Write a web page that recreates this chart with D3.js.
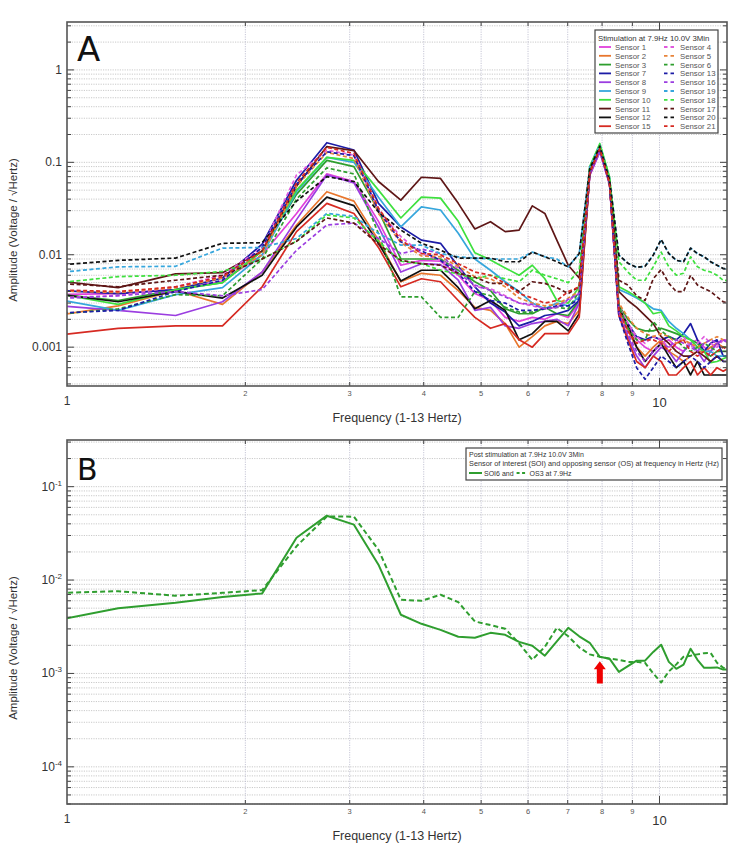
<!DOCTYPE html>
<html>
<head>
<meta charset="utf-8">
<script src="https://cdn.jsdelivr.net/npm/d3@7"></script>
<style>
    body { margin: 0; background: #fff; }
    svg { display: block; font-family: "Liberation Sans", Arial, sans-serif; }
</style>
</head>
<body>
<div id="chart"></div>
<script>
// frequency bins (Hz), ~0.305 Hz resolution
const freqs = [0.915, 1.22, 1.525, 1.83, 2.135, 2.44, 2.745, 3.05, 3.355, 3.66, 3.965, 4.27, 4.575, 4.88,
    5.185, 5.49, 5.795, 6.1, 6.405, 6.71, 7.015, 7.32, 7.625, 7.93, 8.235, 8.54, 8.845, 9.15, 9.455, 9.76,
    10.065, 10.37, 10.675, 10.98, 11.285, 11.59, 11.895, 12.2, 12.505, 12.81, 13.115];

// Panel A - amplitude per sensor during stimulation
const sensor1 = [0.0037, 0.0038, 0.0042, 0.0052, 0.01, 0.028, 0.075, 0.062, 0.023,
    0.0077, 0.0087, 0.0085, 0.006, 0.0038, 0.0032, 0.0021, 0.0019, 0.0021, 0.002, 0.0023, 0.0021, 0.003,
    0.072, 0.13, 0.058,
    0.0026, 0.0017, 0.0012, 0.001, 0.0009, 0.0011, 0.0012, 0.001, 0.0009, 0.0011, 0.0012, 0.001, 0.0009, 0.0011, 0.0012, 0.0012];
const sensor2 = [0.0021, 0.0028, 0.0041, 0.0029, 0.0065, 0.021, 0.048, 0.038, 0.0144,
    0.0051, 0.0063, 0.006, 0.0041, 0.0027, 0.0025, 0.0018, 0.001, 0.0013, 0.0017, 0.0019, 0.0018, 0.0025,
    0.075, 0.14, 0.06,
    0.0024, 0.0015, 0.001, 0.0008, 0.001, 0.0012, 0.0009, 0.0008, 0.0007, 0.0008, 0.0009, 0.0009, 0.001, 0.0011, 0.001, 0.001];
const sensor3 = [0.0039, 0.0032, 0.0042, 0.005, 0.011, 0.045, 0.105, 0.09, 0.03,
    0.009, 0.009, 0.009, 0.0068, 0.0051, 0.0041, 0.0026, 0.0023, 0.0023, 0.0027, 0.0023, 0.0022, 0.0032,
    0.08, 0.145, 0.062,
    0.0028, 0.002, 0.0016, 0.0015, 0.0015, 0.0016, 0.0015, 0.0014, 0.0013, 0.0012, 0.0011, 0.0009, 0.0008, 0.0009, 0.0009, 0.0009];
const sensor7 = [0.0042, 0.0038, 0.0042, 0.0056, 0.013, 0.064, 0.163, 0.136, 0.036,
    0.02, 0.0144, 0.0133, 0.0075, 0.0045, 0.003, 0.0024, 0.0017, 0.0019, 0.0022, 0.0023, 0.0025, 0.0032,
    0.078, 0.14, 0.06,
    0.0025, 0.0018, 0.0013, 0.0012, 0.0013, 0.0012, 0.0013, 0.0012, 0.0014, 0.0018, 0.0012, 0.0009, 0.0011, 0.0012, 0.0008, 0.0008];
const sensor8 = [0.0029, 0.0025, 0.0022, 0.0031, 0.0065, 0.024, 0.073, 0.06, 0.02,
    0.0065, 0.008, 0.0078, 0.0053, 0.0025, 0.0027, 0.0017, 0.0016, 0.0018, 0.0019, 0.002, 0.0017, 0.003,
    0.072, 0.13, 0.058,
    0.0022, 0.0013, 0.0008, 0.0006, 0.0008, 0.001, 0.0009, 0.0007, 0.0009, 0.0011, 0.0009, 0.0007, 0.0009, 0.0011, 0.0012, 0.0011];
const sensor9 = [0.0035, 0.0025, 0.0037, 0.0044, 0.01, 0.048, 0.113, 0.1, 0.042,
    0.02, 0.033, 0.0305, 0.0171, 0.009, 0.0068, 0.0051, 0.004, 0.003, 0.0026, 0.003, 0.0028, 0.0035,
    0.085, 0.15, 0.065,
    0.0042, 0.0038, 0.0034, 0.003, 0.0026, 0.0025, 0.0019, 0.0016, 0.0014, 0.0012, 0.001, 0.0009, 0.0009, 0.0008, 0.0008, 0.0008];
const sensor10 = [0.004, 0.0029, 0.0042, 0.005, 0.011, 0.05, 0.113, 0.105, 0.05,
    0.025, 0.042, 0.041, 0.023, 0.0105, 0.0088, 0.0072, 0.006, 0.0077, 0.0055, 0.0032, 0.003, 0.0045,
    0.09, 0.16, 0.07,
    0.0045, 0.004, 0.0035, 0.003, 0.0023, 0.0024, 0.0017, 0.0015, 0.0013, 0.0012, 0.001, 0.0009, 0.00068, 0.0007, 0.00075, 0.0008];
const sensor11 = [0.0054, 0.0044, 0.0062, 0.0064, 0.011, 0.055, 0.148, 0.134, 0.062,
    0.039, 0.069, 0.067, 0.036, 0.019, 0.0228, 0.0178, 0.0185, 0.0338, 0.028, 0.0144, 0.0077, 0.0056,
    0.08, 0.145, 0.062,
    0.004, 0.0032, 0.0027, 0.0022, 0.0018, 0.0013, 0.0011, 0.0009, 0.0008, 0.0008, 0.0009, 0.0008, 0.0007, 0.0008, 0.0007, 0.0007];
const sensor12 = [0.0039, 0.0031, 0.004, 0.0034, 0.006, 0.02, 0.042, 0.034, 0.0133,
    0.0052, 0.0068, 0.0068, 0.0044, 0.0026, 0.0032, 0.0025, 0.0012, 0.0014, 0.0019, 0.0019, 0.0015, 0.0023,
    0.075, 0.14, 0.06,
    0.0027, 0.0017, 0.001, 0.0007, 0.0009, 0.0011, 0.0008, 0.0006, 0.0007, 0.0005, 0.0007, 0.0005, 0.0005, 0.0005, 0.0005, 0.0005];
const sensor15 = [0.0013, 0.0016, 0.0017, 0.0017, 0.0045, 0.0178, 0.036, 0.028, 0.012,
    0.0045, 0.0055, 0.0051, 0.0032, 0.0021, 0.0016, 0.0018, 0.0012, 0.001, 0.0014, 0.0014, 0.0014, 0.0021,
    0.075, 0.14, 0.06,
    0.0022, 0.0012, 0.0007, 0.0006, 0.0008, 0.0007, 0.0005, 0.0005, 0.0006, 0.0007, 0.0005, 0.0006, 0.0005, 0.0006, 0.00055, 0.0006];
const sensor4 = [0.0034, 0.0036, 0.0045, 0.006, 0.012, 0.073, 0.135, 0.12, 0.03,
    0.0157, 0.0103, 0.0087, 0.0072, 0.0045, 0.0043, 0.0036, 0.003, 0.0028, 0.0026, 0.0027, 0.0032, 0.0038,
    0.075, 0.135, 0.06,
    0.0028, 0.0018, 0.0013, 0.0011, 0.0013, 0.0012, 0.001, 0.0011, 0.0013, 0.001, 0.0011, 0.0013, 0.0011, 0.001, 0.0012, 0.0012];
const sensor5 = [0.0041, 0.0039, 0.0044, 0.0056, 0.01, 0.055, 0.128, 0.11, 0.028,
    0.0135, 0.0097, 0.0095, 0.0075, 0.0058, 0.0055, 0.0045, 0.0034, 0.003, 0.0028, 0.0029, 0.0034, 0.004,
    0.078, 0.14, 0.06,
    0.003, 0.0021, 0.0016, 0.0014, 0.0013, 0.0014, 0.0013, 0.0011, 0.0012, 0.0011, 0.001, 0.0011, 0.0012, 0.0013, 0.0012, 0.0011];
const sensor6 = [0.0022, 0.0026, 0.0037, 0.0036, 0.009, 0.04, 0.087, 0.075, 0.017,
    0.0035, 0.0035, 0.0021, 0.0021, 0.004, 0.0036, 0.0027, 0.0024, 0.0024, 0.0026, 0.0027, 0.0026, 0.004,
    0.08, 0.145, 0.062,
    0.0028, 0.0016, 0.0012, 0.0012, 0.0019, 0.0015, 0.0013, 0.0012, 0.001, 0.0009, 0.001, 0.0011, 0.001, 0.0009, 0.001, 0.001];
const sensor13 = [0.0023, 0.0025, 0.004, 0.0053, 0.012, 0.058, 0.13, 0.118, 0.03,
    0.0138, 0.011, 0.0087, 0.0063, 0.004, 0.0032, 0.003, 0.0025, 0.0025, 0.0026, 0.0028, 0.0028, 0.0033,
    0.078, 0.14, 0.06,
    0.0022, 0.0011, 0.0006, 0.00045, 0.0006, 0.0008, 0.0007, 0.0006, 0.0007, 0.0008, 0.0007, 0.0006, 0.0007, 0.0008, 0.0007, 0.0007];
const sensor16 = [0.0033, 0.0036, 0.004, 0.0036, 0.0042, 0.0112, 0.021, 0.022, 0.015,
    0.0103, 0.0115, 0.0103, 0.0063, 0.0047, 0.0041, 0.0035, 0.003, 0.0029, 0.0026, 0.0027, 0.0033, 0.0038,
    0.075, 0.135, 0.06,
    0.0024, 0.0014, 0.0009, 0.0007, 0.0009, 0.0011, 0.001, 0.0012, 0.0011, 0.001, 0.0009, 0.0011, 0.0012, 0.0011, 0.0012, 0.0011];
const sensor19 = [0.0062, 0.0074, 0.0075, 0.0118, 0.012, 0.015, 0.028, 0.026, 0.017,
    0.0127, 0.0127, 0.0103, 0.0095, 0.0092, 0.009, 0.009, 0.009, 0.0107, 0.0095, 0.009, 0.0074, 0.0103,
    0.088, 0.155, 0.068,
    0.0099, 0.0081, 0.0073, 0.0075, 0.0099, 0.0146, 0.0103, 0.0087, 0.0084, 0.0118, 0.0103, 0.0095, 0.0084, 0.0077, 0.0071, 0.007];
const sensor18 = [0.0048, 0.0058, 0.006, 0.0066, 0.009, 0.014, 0.027, 0.025, 0.014,
    0.0085, 0.008, 0.0068, 0.0062, 0.0055, 0.006, 0.0055, 0.0051, 0.0068, 0.006, 0.0055, 0.005, 0.0068,
    0.088, 0.155, 0.068,
    0.0084, 0.0065, 0.0053, 0.0053, 0.0074, 0.0107, 0.0074, 0.006, 0.0063, 0.0095, 0.0074, 0.0068, 0.0065, 0.006, 0.0053, 0.0052];
const sensor17 = [0.005, 0.0045, 0.0053, 0.006, 0.009, 0.014, 0.025, 0.022, 0.013,
    0.0087, 0.008, 0.0077, 0.0063, 0.0057, 0.0049, 0.0049, 0.004, 0.0051, 0.0049, 0.0044, 0.0038, 0.0045,
    0.078, 0.14, 0.06,
    0.0053, 0.0047, 0.0036, 0.0032, 0.0055, 0.0069, 0.0049, 0.004, 0.004, 0.006, 0.0047, 0.0043, 0.004, 0.0035, 0.0031, 0.003];
const sensor20 = [0.0075, 0.0087, 0.0092, 0.0133, 0.0135, 0.038, 0.07, 0.062, 0.029,
    0.0185, 0.0133, 0.0112, 0.0092, 0.0092, 0.0092, 0.0084, 0.0084, 0.0107, 0.0095, 0.0084, 0.0074, 0.0103,
    0.085, 0.15, 0.065,
    0.0099, 0.0081, 0.0073, 0.0075, 0.0099, 0.0146, 0.0103, 0.0087, 0.0084, 0.0118, 0.0103, 0.0095, 0.0084, 0.0077, 0.0071, 0.007];
const sensor21 = [0.0042, 0.004, 0.0045, 0.0058, 0.011, 0.06, 0.145, 0.125, 0.032,
    0.0144, 0.0103, 0.01, 0.008, 0.0065, 0.006, 0.0049, 0.0038, 0.0034, 0.003, 0.0032, 0.004, 0.0045,
    0.078, 0.14, 0.06,
    0.0025, 0.0015, 0.0011, 0.0012, 0.0012, 0.0011, 0.0009, 0.0011, 0.0012, 0.0009, 0.0008, 0.0009, 0.0008, 0.0009, 0.001, 0.0009];

// Panel B - post stimulation, SOI6 vs OS3
const soi6 = [0.0035, 0.005, 0.0057, 0.0066, 0.0072, 0.0284, 0.0489, 0.0392, 0.0146, 0.00425, 0.0034,
    0.00293, 0.00247, 0.00241, 0.00272, 0.00259, 0.00218, 0.00198, 0.00155, 0.0022, 0.00308, 0.0025,
    0.00213, 0.00151, 0.00144, 0.00104, 0.0012, 0.00137, 0.00137, 0.0017, 0.00203, 0.00133, 0.00112,
    0.00124, 0.00184, 0.0014, 0.00115, 0.00115, 0.00116, 0.0011, 0.0011];
const os3 = [0.0072, 0.0076, 0.0068, 0.0073, 0.0078, 0.023, 0.048, 0.0477, 0.0211, 0.00615, 0.006,
    0.00696, 0.0058, 0.0036, 0.0033, 0.00301, 0.0021, 0.0014, 0.00193, 0.00308, 0.0025, 0.0019,
    0.0016, 0.00151, 0.00144, 0.0014, 0.00133, 0.00133, 0.0013, 0.001, 0.0008, 0.00105, 0.00125,
    0.00151, 0.00155, 0.0016, 0.00165, 0.00166, 0.0013, 0.00115, 0.0011];

const minorXTicks = [2, 3, 4, 5, 6, 7, 8, 9];
const arrowFreq = 7.93;
const arrowRange = [0.00135, 0.00078];

const seriesA = [
    {name: "Sensor 1", values: sensor1, color: "#e040dc", dashed: false},
    {name: "Sensor 2", values: sensor2, color: "#e8762d", dashed: false},
    {name: "Sensor 3", values: sensor3, color: "#2e9e2e", dashed: false},
    {name: "Sensor 7", values: sensor7, color: "#1c1ca6", dashed: false},
    {name: "Sensor 8", values: sensor8, color: "#9b3de0", dashed: false},
    {name: "Sensor 9", values: sensor9, color: "#36a6dc", dashed: false},
    {name: "Sensor 10", values: sensor10, color: "#3ee03e", dashed: false},
    {name: "Sensor 11", values: sensor11, color: "#5e1616", dashed: false},
    {name: "Sensor 12", values: sensor12, color: "#111111", dashed: false},
    {name: "Sensor 15", values: sensor15, color: "#d62a22", dashed: false},
    {name: "Sensor 4", values: sensor4, color: "#e05ade", dashed: true},
    {name: "Sensor 5", values: sensor5, color: "#e8843a", dashed: true},
    {name: "Sensor 6", values: sensor6, color: "#2e9e2e", dashed: true},
    {name: "Sensor 13", values: sensor13, color: "#1c1ca6", dashed: true},
    {name: "Sensor 16", values: sensor16, color: "#9b3de0", dashed: true},
    {name: "Sensor 19", values: sensor19, color: "#36a6dc", dashed: true},
    {name: "Sensor 18", values: sensor18, color: "#3ee03e", dashed: true},
    {name: "Sensor 17", values: sensor17, color: "#5e1616", dashed: true},
    {name: "Sensor 20", values: sensor20, color: "#111111", dashed: true},
    {name: "Sensor 21", values: sensor21, color: "#d62a22", dashed: true}
];
const seriesB = [
    {name: "SOI6", values: soi6, color: "#2f9e2f", dashed: false},
    {name: "OS3", values: os3, color: "#2f9e2f", dashed: true}
];

const width = 750, height = 863;
const svg = d3.select("#chart").append("svg")
    .attr("width", width)
    .attr("height", height);

function drawPanel(cfg) {
    const x = d3.scaleLog().domain([1, 13]).range([cfg.left, cfg.right]);
    const y = d3.scaleLog().domain(cfg.yDomain).range([cfg.bottom, cfg.top]);
    const g = svg.append("g");

    // log minor values in range
    const minorY = [];
    for (let e = -5; e <= 1; e++) {
        for (let m = 1; m <= 9; m++) {
            const v = m * Math.pow(10, e);
            if (v >= cfg.yDomain[0] && v <= cfg.yDomain[1]) minorY.push({v, major: m === 1});
        }
    }

    // grid
    g.selectAll(".hgrid").data(minorY).enter().append("line")
        .attr("x1", cfg.left).attr("x2", cfg.right)
        .attr("y1", d => y(d.v)).attr("y2", d => y(d.v))
        .attr("stroke", "#bdbdbd").attr("stroke-width", 0.8)
        .attr("stroke-dasharray", "1.2,1.2");
    g.selectAll(".vgrid").data(minorXTicks.concat([10])).enter().append("line")
        .attr("x1", d => x(d)).attr("x2", d => x(d))
        .attr("y1", cfg.top).attr("y2", cfg.bottom)
        .attr("stroke", "#b8b8cc").attr("stroke-width", 0.8)
        .attr("stroke-dasharray", "1.2,1.2");

    // lines
    const clipId = "clip-" + cfg.id;
    svg.append("clipPath").attr("id", clipId).append("rect")
        .attr("x", cfg.left).attr("y", cfg.top)
        .attr("width", cfg.right - cfg.left).attr("height", cfg.bottom - cfg.top);

    const line = d3.line()
        .x((d, i) => x(freqs[i]))
        .y(d => y(d));

    g.append("g").attr("clip-path", `url(#${clipId})`)
        .selectAll("path").data(cfg.series).enter().append("path")
        .attr("d", d => line(d.values))
        .attr("fill", "none")
        .attr("stroke", d => d.color)
        .attr("stroke-width", cfg.lineWidth)
        .attr("stroke-linejoin", "round")
        .attr("stroke-dasharray", d => d.dashed ? cfg.dash : null);

    // ticks (inward, on all four sides)
    const tickColor = "#444";
    [cfg.left, cfg.right].forEach((xx, side) => {
        const dir = side === 0 ? 1 : -1;
        g.selectAll(null).data(minorY).enter().append("line")
            .attr("x1", xx).attr("x2", d => xx + dir * (d.major ? 7 : 4))
            .attr("y1", d => y(d.v)).attr("y2", d => y(d.v))
            .attr("stroke", tickColor).attr("stroke-width", 1);
    });
    [cfg.bottom, cfg.top].forEach((yy, side) => {
        const dir = side === 0 ? -1 : 1;
        g.selectAll(null).data(minorXTicks.concat([10])).enter().append("line")
            .attr("x1", d => x(d)).attr("x2", d => x(d))
            .attr("y1", yy).attr("y2", d => yy + dir * (d === 10 ? 8 : 4))
            .attr("stroke", tickColor).attr("stroke-width", 1);
    });

    // frame
    g.append("rect")
        .attr("x", cfg.left).attr("y", cfg.top)
        .attr("width", cfg.right - cfg.left).attr("height", cfg.bottom - cfg.top)
        .attr("fill", "none").attr("stroke", "#555").attr("stroke-width", 1.6);

    // y labels
    const majors = minorY.filter(d => d.major);
    const yl = g.selectAll(".ylab").data(majors).enter().append("text")
        .attr("x", cfg.left - 5)
        .attr("y", d => y(d.v) + 4)
        .attr("text-anchor", "end")
        .attr("font-size", 12)
        .attr("fill", "#333");
    if (cfg.powerLabels) {
        yl.each(function (d) {
            const t = d3.select(this);
            t.append("tspan").text("10");
            t.append("tspan").attr("dy", -5).attr("font-size", 8)
                .text(String(Math.round(Math.log10(d.v))));
        });
    } else {
        yl.text(d => d3.format("~g")(d.v));
    }

    // x labels
    g.append("text").attr("x", x(1)).attr("y", cfg.bottom + 19)
        .attr("text-anchor", "middle").attr("font-size", 12).attr("fill", "#333").text("1");
    g.selectAll(".xmin").data(minorXTicks).enter().append("text")
        .attr("x", d => x(d)).attr("y", cfg.bottom + 10)
        .attr("text-anchor", "middle").attr("font-size", 7.5).attr("fill", "#555")
        .text(d => d);
    g.append("text").attr("x", x(10)).attr("y", cfg.bottom + 21)
        .attr("text-anchor", "middle").attr("font-size", 13).attr("fill", "#333").text("10");

    // titles
    g.append("text").attr("x", 397).attr("y", cfg.bottom + 36)
        .attr("text-anchor", "middle").attr("font-size", 12.5).attr("fill", "#333")
        .text("Frequency (1-13 Hertz)");
    g.append("text")
        .attr("transform", `translate(17,${(cfg.top + cfg.bottom) / 2 + 26}) rotate(-90)`)
        .attr("text-anchor", "middle").attr("font-size", 11.5).attr("fill", "#333")
        .text("Amplitude (Voltage / \u221AHertz)");

    // panel letter
    g.append("text").attr("x", cfg.left + 10).attr("y", cfg.top + cfg.letterDy)
        .attr("font-family", "DejaVu Sans, sans-serif")
        .attr("font-size", cfg.letterSize).attr("fill", "#111")
        .text(cfg.letter);

    return {x, y, g};
}

// ---- Panel A ----
const pA = drawPanel({
    id: "a", left: 67, right: 727, top: 22, bottom: 386,
    yDomain: [0.00038, 3.3], series: seriesA, lineWidth: 1.7, dash: "4,2.5",
    powerLabels: false, letter: "A", letterSize: 34, letterDy: 39
});

// legend A
const legA = pA.g.append("g");
legA.append("rect").attr("x", 595).attr("y", 30).attr("width", 123).attr("height", 103)
    .attr("fill", "#fff").attr("stroke", "#444").attr("stroke-width", 1.2);
legA.append("text").attr("x", 598).attr("y", 41).attr("font-size", 7.8).attr("fill", "#333")
    .text("Stimulation at 7.9Hz 10.0V 3Min");
seriesA.forEach((s, i) => {
    const col = s.dashed ? 1 : 0;
    const row = i % 10;
    const yy = 47 + row * 8.8;
    const x0 = col ? 664 : 599;
    legA.append("line").attr("x1", x0).attr("x2", x0 + 12).attr("y1", yy).attr("y2", yy)
        .attr("stroke", s.color).attr("stroke-width", 1.8)
        .attr("stroke-dasharray", s.dashed ? "3.5,3" : null);
    legA.append("text").attr("x", x0 + 16).attr("y", yy + 3)
        .attr("font-size", 7.8).attr("fill", "#555").text(s.name);
});

// ---- Panel B ----
const pB = drawPanel({
    id: "b", left: 67, right: 727, top: 440, bottom: 804,
    yDomain: [4e-5, 0.316], series: seriesB, lineWidth: 2, dash: "5,3",
    powerLabels: true, letter: "B", letterSize: 30, letterDy: 40
});

// legend B
const legB = pB.g.append("g");
const legFont = 7;
legB.append("rect").attr("x", 466).attr("y", 448).attr("width", 256).attr("height", 32)
    .attr("fill", "#fff").attr("stroke", "#444").attr("stroke-width", 1.2);
legB.append("text").attr("x", 469).attr("y", 457).attr("font-size", legFont).attr("fill", "#333")
    .text("Post stimulation at 7.9Hz 10.0V 3Min");
legB.append("text").attr("x", 469).attr("y", 466).attr("font-size", legFont).attr("fill", "#333")
    .attr("textLength", 250).attr("lengthAdjust", "spacingAndGlyphs")
    .text("Sensor of interest (SOI) and opposing sensor (OS) at frequency in Hertz (Hz)");
legB.append("line").attr("x1", 469).attr("x2", 482).attr("y1", 473).attr("y2", 473)
    .attr("stroke", seriesB[0].color).attr("stroke-width", 2);
const soiText = legB.append("text").attr("x", 484).attr("y", 475.5)
    .attr("font-size", legFont).attr("fill", "#333")
    .text("SOI6 and");
const dashX = 484 + soiText.node().getComputedTextLength() + 3;
legB.append("line").attr("x1", dashX).attr("x2", dashX + 10).attr("y1", 473).attr("y2", 473)
    .attr("stroke", seriesB[1].color).attr("stroke-width", 2).attr("stroke-dasharray", "3,2.5");
legB.append("text").attr("x", dashX + 13).attr("y", 475.5).attr("font-size", legFont).attr("fill", "#333")
    .text("OS3 at 7.9Hz");

// red arrow at stimulation frequency
const ax = pB.x(arrowFreq);
const tipY = pB.y(arrowRange[0]);
const baseY = pB.y(arrowRange[1]);
pB.g.append("path")
    .attr("d", `M${ax},${tipY} L${ax + 6},${tipY + 8} L${ax + 3},${tipY + 8} L${ax + 3},${baseY}
        L${ax - 3},${baseY} L${ax - 3},${tipY + 8} L${ax - 6},${tipY + 8} Z`)
    .attr("fill", "#f00000");
</script>
</body>
</html>
